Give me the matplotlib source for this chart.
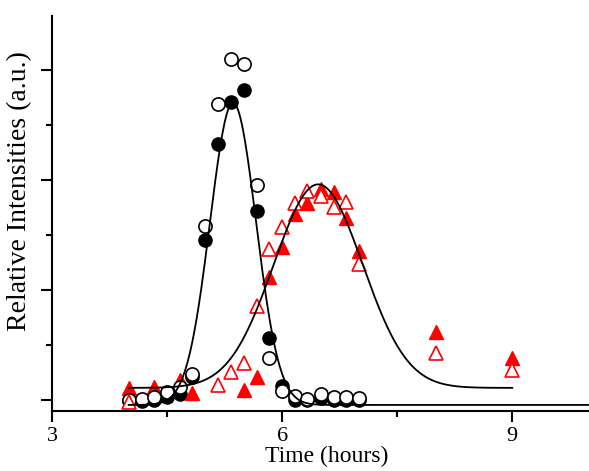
import matplotlib.pyplot as plt
import numpy as np

plt.rcParams['font.family'] = ['Liberation Serif', 'DejaVu Serif']

# sampling times (hours), 10 min apart, plus two late points
t_circ = [4.0, 4.17, 4.33, 4.5, 4.67, 4.83, 5.0, 5.17, 5.33, 5.5,
          5.67, 5.83, 6.0, 6.17, 6.33, 6.5, 6.67, 6.83, 7.0]
open_circ = [0.0, 0.01, 0.03, 0.07, 0.12, 0.24, 1.58, 2.69, 3.10, 3.05,
             1.95, 0.38, 0.08, 0.04, 0.01, 0.05, 0.03, 0.03, 0.02]
fill_circ = [-0.01, -0.01, 0.0, 0.03, 0.05, 0.21, 1.45, 2.33, 2.71, 2.82,
             1.72, 0.56, 0.13, 0.0, 0.0, 0.02, 0.0, 0.0, 0.0]

t_ftri = [4.0, 4.33, 4.67, 4.83, 5.5, 5.67, 5.83, 6.0, 6.17, 6.33,
          6.5, 6.67, 6.83, 7.0, 8.0, 9.0]
fill_tri = [0.11, 0.12, 0.18, 0.06, 0.09, 0.21, 1.12, 1.39, 1.69, 1.79,
            1.92, 1.89, 1.65, 1.35, 0.62, 0.38]

t_otri = [4.0, 5.17, 5.33, 5.5, 5.67, 5.83, 6.0, 6.17, 6.33,
          6.5, 6.67, 6.83, 7.0, 8.0, 9.0]
open_tri = [-0.02, 0.14, 0.25, 0.34, 0.85, 1.37, 1.57, 1.79, 1.90,
            1.85, 1.75, 1.80, 1.24, 0.43, 0.27]

# gaussian fit parameters: (base, amp, centre, sigma, t start, t end)
fit1 = (-0.045, 2.745, 5.36, 0.30, 4.0, 10.0)
fit2 = (0.11, 1.85, 6.47, 0.58, 4.0, 9.0)


def gauss_curve(p):
	base, amp, c, s, a, b = p
	x = np.linspace(a, b, 400)
	return x, base + amp * np.exp(-(x - c) ** 2 / (2 * s ** 2))


fig = plt.figure(figsize=(5.89, 4.71), dpi=100)
ax = fig.add_axes([0.0883, 0.1274, 0.9117, 0.8386])

ms = 9.5
ax.plot(t_circ, fill_circ, 'o', ms=ms, mfc='black', mec='black', zorder=3)
ax.plot(t_circ, open_circ, 'o', ms=ms, mfc='white', mec='black', mew=1.2, zorder=4)
ax.plot(t_ftri, fill_tri, '^', ms=ms + 1, mfc='red', mec='red', zorder=3)
ax.plot(t_otri, open_tri, '^', ms=ms + 1, mfc='white', mec='red', mew=1.2, zorder=4)

for p in (fit1, fit2):
	x, y = gauss_curve(p)
	ax.plot(x, y, '-', color='black', lw=1.3, zorder=5)

ax.set_xlim(3, 10)
ax.set_ylim(-0.10, 3.49)
ax.spines['top'].set_visible(False)
ax.spines['right'].set_visible(False)
ax.spines['left'].set_linewidth(1.5)
ax.spines['bottom'].set_linewidth(1.5)

ax.set_xticks([3, 6, 9])
ax.set_xticks([4.5, 7.5], minor=True)
ax.set_yticks([0, 1, 2, 3])
ax.set_yticks([0.5, 1.5, 2.5], minor=True)
ax.set_yticklabels([])
ax.tick_params(which='major', direction='out', length=8, width=1.5, labelsize=16)
ax.tick_params(which='minor', direction='out', length=4.5, width=1.5)

ax.set_xlabel('Time (hours)', fontsize=17)
ax.xaxis.set_label_coords(0.512, -0.088)
ax.set_ylabel('Relative Intensities (a.u.)', fontsize=20)
ax.yaxis.set_label_coords(-0.037, 0.557)

fig.savefig('out.png', dpi=100)
